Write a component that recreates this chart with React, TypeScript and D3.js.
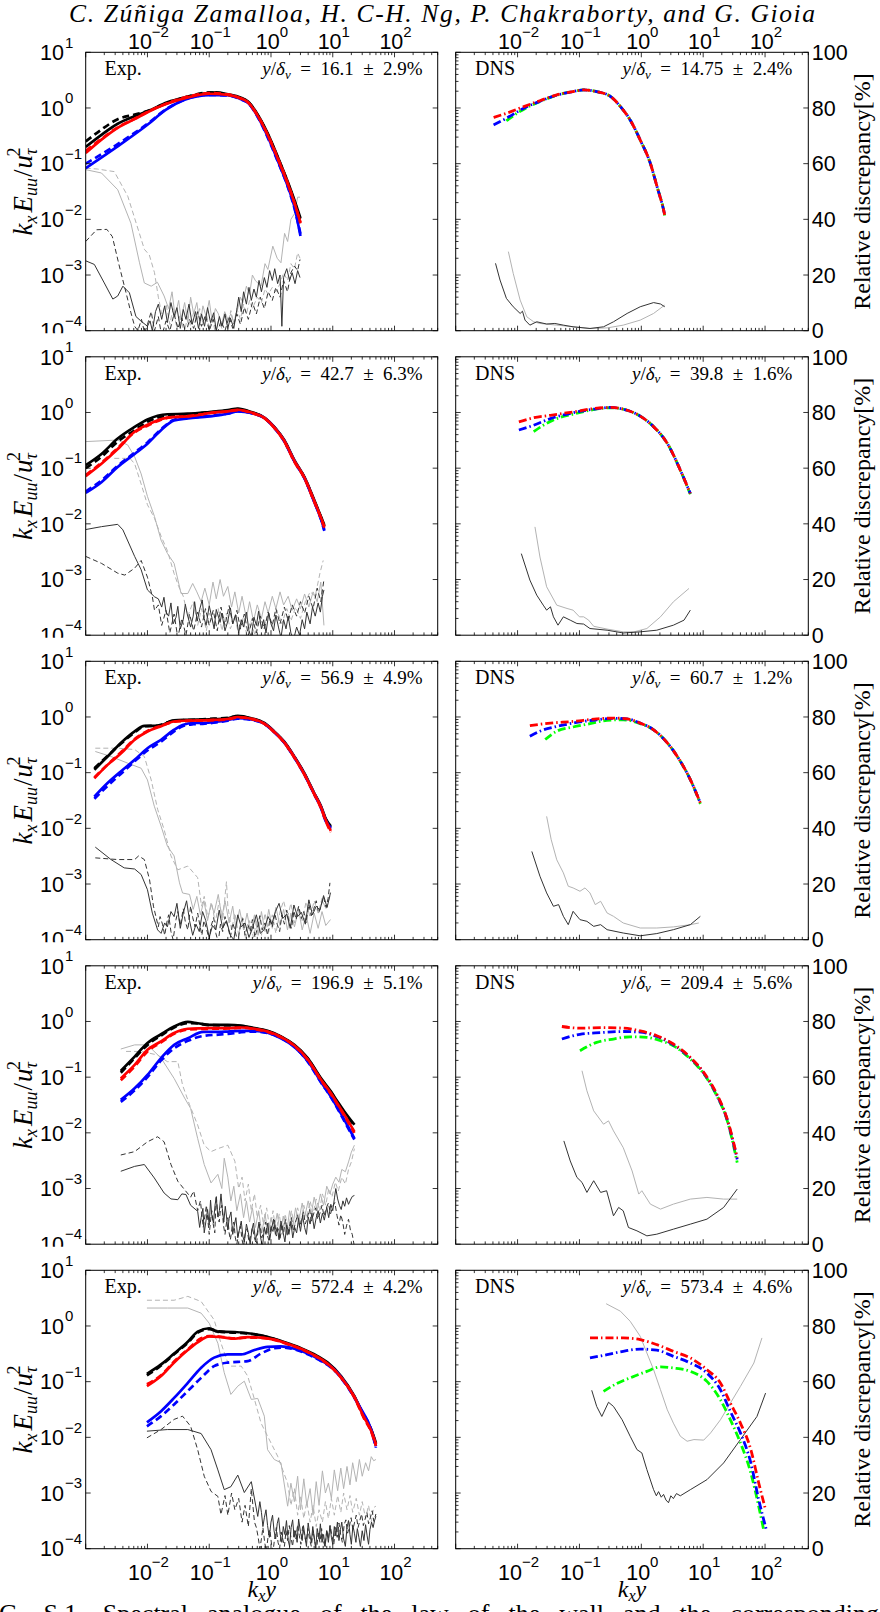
import React from "react";
import * as d3 from "d3";

type Pt = [number, number];

// ---------------- Text data ----------------
const TITLE = "C. Zúñiga Zamalloa, H. C-H. Ng, P. Chakraborty, and G. Gioia";
const CAPTION = "FIG. S.1. Spectral analogue of the law of the wall and the corresponding";
const EXP_LEVELS = ["16.1", "42.7", "56.9", "196.9", "572.4"];
const EXP_ERR = ["2.9%", "6.3%", "4.9%", "5.1%", "4.2%"];
const DNS_LEVELS = ["14.75", "39.8", "60.7", "209.4", "573.4"];
const DNS_ERR = ["2.4%", "1.6%", "1.2%", "5.6%", "4.6%"];
const X_LABEL_EXPS = [-2, -1, 0, 1, 2];
const Y_LABEL_EXPS = [1, 0, -1, -2, -3, -4];
const RIGHT_TICKS = [0, 20, 40, 60, 80, 100];
const X_DOMAIN: [number, number] = [1e-3, 500];
const Y_DOMAIN: [number, number] = [1e-4, 10];

// ---------------- Panel 1 (Exp.) ----------------
const E1_BK: Pt[] = [[1e-3,0.2],[1.8e-3,0.33],[3.3e-3,0.52],[6.2e-3,0.71],[1e-2,0.87],[2.1e-2,1.26],[4.5e-2,1.58],[7e-2,1.75],[0.1,1.85],[0.13,1.9],[0.2,1.76],[0.32,1.55],[0.42,1.32],[0.61,0.76],[0.88,0.355],[1.28,0.135],[1.86,0.048],[2.39,0.0224],[3.0,0.0105]];
const E1_BKD: Pt[] = [[1e-3,0.25],[1.8e-3,0.41],[3.3e-3,0.63],[6.2e-3,0.76],[1e-2,0.88],[2.1e-2,1.22],[4.5e-2,1.6],[0.1,1.9],[0.2,1.72],[0.32,1.5],[0.42,1.3],[0.61,0.74],[0.88,0.34],[1.28,0.13],[1.86,0.046],[2.39,0.021],[3.0,0.0095]];
const E1_RD: Pt[] = [[1e-3,0.155],[1.8e-3,0.27],[3.3e-3,0.44],[6.2e-3,0.63],[1e-2,0.84],[2.1e-2,1.2],[4.5e-2,1.55],[0.1,1.8],[0.2,1.72],[0.32,1.5],[0.42,1.28],[0.61,0.72],[0.88,0.33],[1.28,0.125],[1.86,0.044],[2.39,0.02],[3.0,0.0088]];
const E1_RDD: Pt[] = [[1e-3,0.17],[1.8e-3,0.28],[3.3e-3,0.45],[6.2e-3,0.64],[1e-2,0.85],[2.1e-2,1.22],[4.5e-2,1.6],[0.1,1.85],[0.2,1.75],[0.32,1.48],[0.42,1.27],[0.61,0.73],[0.88,0.335],[1.28,0.128],[1.86,0.045],[2.39,0.02],[3.0,0.0085]];
const E1_BL: Pt[] = [[1e-3,0.083],[3.2e-3,0.2],[1e-2,0.5],[2e-2,0.93],[4e-2,1.4],[0.1,1.7],[0.2,1.7],[0.32,1.45],[0.42,1.25],[0.61,0.7],[0.88,0.31],[1.28,0.115],[1.86,0.04],[2.39,0.017],[3.0,0.005]];
const E1_BLD: Pt[] = [[1e-3,0.1],[3.2e-3,0.22],[1e-2,0.52],[2e-2,0.95],[4e-2,1.42],[0.1,1.72],[0.2,1.68],[0.32,1.44],[0.42,1.24],[0.61,0.69],[0.88,0.3],[1.28,0.112],[1.86,0.039],[2.39,0.016],[3.0,0.0055]];
const E1_LG: Pt[] = [[1e-3,0.078],[1.8e-3,0.068],[3.3e-3,0.034],[5.4e-3,0.0085],[7.4e-3,1.7e-3],[8.9e-3,7.2e-4],[1.15e-2,6.3e-4],[1.45e-2,7.4e-4],[1.86e-2,4.2e-4],[2.2e-2,2.5e-4],[2.5e-2,5e-4],[2.8e-2,1.8e-4],[3.2e-2,3.5e-4],[3.5e-2,1.6e-4],[4e-2,3.2e-4],[4.5e-2,1.4e-4],[5e-2,4e-4],[5.6e-2,2e-4],[6.3e-2,3.2e-4],[7.1e-2,1.26e-4],[7.9e-2,2.8e-4],[8.9e-2,1.8e-4],[0.1,3.5e-4],[0.112,1.4e-4],[0.126,2.5e-4],[0.141,2e-4],[0.158,1.26e-4],[0.178,2.2e-4],[0.2,1.6e-4],[0.224,2e-4],[0.25,1.4e-4],[0.28,2.1e-4],[0.32,4e-4],[0.35,3.2e-4],[0.4,6.3e-4],[0.45,4.5e-4],[0.5,1e-3],[0.56,7.9e-4],[0.69,6.3e-4],[0.8,1.6e-3],[0.89,1.26e-3],[1.07,3.3e-3],[1.26,2e-3],[1.45,1.66e-3],[1.66,5.6e-3],[1.86,4e-3],[2.1,0.01],[2.4,0.0126],[2.7,0.025],[2.95,0.025]];
const E1_LGD: Pt[] = [[1e-3,0.083],[1.55e-3,0.08],[2.9e-3,0.072],[4.8e-3,0.026],[7.4e-3,5.6e-3],[8.9e-3,2.9e-3],[1.07e-2,2.3e-3],[1.3e-2,1.1e-3],[1.5e-2,4e-4],[1.7e-2,2e-4],[2e-2,3e-4],[2.3e-2,1.3e-4],[2.6e-2,2.5e-4],[3e-2,1.1e-4],[3.4e-2,2e-4],[3.9e-2,9e-5],[4.5e-2,1.8e-4],[5e-2,1.2e-4],[5.6e-2,2.2e-4],[6.3e-2,1.5e-4],[7e-2,2.5e-4],[8e-2,1.3e-4],[9e-2,2e-4],[0.1,1.1e-4],[0.112,1.7e-4],[0.126,9e-5],[0.141,1.5e-4],[0.16,1.1e-4],[0.18,1.8e-4],[0.2,1.2e-4],[0.224,2.3e-4],[0.25,1.3e-4],[0.28,2.5e-4],[0.32,1.6e-4],[0.36,3e-4],[0.4,2e-4],[0.45,3.5e-4],[0.5,2.5e-4],[0.6,4e-4],[0.7,3.2e-4],[0.8,5.6e-4],[0.9,4.5e-4],[1.05,6e-4],[1.2,5e-4],[1.4,7e-4],[1.6,1.1e-3],[1.85,8e-4],[2.1,1.6e-3],[2.4,1.3e-3],[2.7,2.5e-3],[2.95,2e-3]];
const E1_DG: Pt[] = [[1e-3,1.8e-3],[1.38e-3,1.55e-3],[2e-3,7.2e-4],[2.75e-3,3.7e-4],[3.3e-3,4.2e-4],[4e-3,6.3e-4],[5.1e-3,4.8e-4],[6.5e-3,1.8e-4],[7.8e-3,1.5e-4],[1e-2,1.2e-4],[1.1e-2,1.5e-4],[1.2e-2,1e-4],[1.35e-2,2.2e-4],[1.5e-2,3e-4],[1.7e-2,1.6e-4],[1.9e-2,2.8e-4],[2.1e-2,1.4e-4],[2.4e-2,3.2e-4],[2.7e-2,1.8e-4],[3e-2,2.6e-4],[3.4e-2,1.1e-4],[3.8e-2,2.4e-4],[4.2e-2,1.6e-4],[4.7e-2,3e-4],[5.3e-2,1.3e-4],[6e-2,2.2e-4],[6.7e-2,1.1e-4],[7.5e-2,2e-4],[8.4e-2,1.2e-4],[9.4e-2,2.6e-4],[0.105,1.4e-4],[0.118,2.1e-4],[0.13,1e-4],[0.146,1.8e-4],[0.16,1.2e-4],[0.18,2e-4],[0.2,1.1e-4],[0.22,1.7e-4],[0.25,1.1e-4],[0.28,2.4e-4],[0.3,4e-4],[0.33,2.2e-4],[0.36,5e-4],[0.4,3e-4],[0.44,6e-4],[0.48,3.5e-4],[0.53,5.6e-4],[0.58,4e-4],[0.64,8e-4],[0.7,5e-4],[0.78,9e-4],[0.86,6e-4],[0.95,1.2e-3],[1.05,8e-4],[1.15,1.3e-3],[1.28,7e-4],[1.4,1e-3],[1.5,1.2e-4],[1.6,9e-4],[1.8,1.3e-3],[2.0,8e-4],[2.2,1.1e-3],[2.45,7e-4],[2.7,1.2e-3],[2.95,9e-4]];
const E1_DGD: Pt[] = [[1e-3,4e-3],[1.5e-3,6.5e-3],[2.2e-3,6.6e-3],[2.7e-3,4.9e-3],[3.5e-3,1.45e-3],[4.5e-3,4.8e-4],[5.4e-3,2.1e-4],[6.2e-3,1.2e-4],[7e-3,1e-4],[8e-3,1.6e-4],[9e-3,9e-5],[1e-2,1.3e-4],[1.15e-2,2.2e-4],[1.3e-2,1e-4],[1.5e-2,1.8e-4],[1.7e-2,8e-5],[2e-2,1.5e-4],[2.3e-2,1e-4],[2.7e-2,2e-4],[3.1e-2,1.1e-4],[3.6e-2,1.7e-4],[4.2e-2,9e-5],[4.8e-2,1.6e-4],[5.6e-2,1.1e-4],[6.5e-2,2.2e-4],[7.5e-2,1.2e-4],[8.7e-2,1.9e-4],[0.1,1e-4],[0.116,1.6e-4],[0.135,9e-5],[0.155,1.5e-4],[0.18,1e-4],[0.21,1.8e-4],[0.24,1.1e-4],[0.28,2e-4],[0.32,1.3e-4],[0.37,2.6e-4],[0.43,1.6e-4],[0.5,3.2e-4],[0.58,2e-4],[0.67,4e-4],[0.78,2.5e-4],[0.9,5e-4],[1.05,3.5e-4],[1.2,6e-4],[1.4,4e-4],[1.6,8e-4],[1.85,5e-4],[2.1,1.1e-3],[2.4,1.45e-3],[2.7,1.2e-3],[2.95,1.9e-3]];

// ---------------- Panel 2 (Exp.) ----------------
const E2_BK: Pt[] = [[1e-3,0.113],[1.8e-3,0.18],[3.3e-3,0.34],[6.2e-3,0.55],[1e-2,0.75],[2.1e-2,0.93],[4.5e-2,0.95],[0.1,1.02],[0.2,1.1],[0.29,1.18],[0.48,1.02],[0.78,0.81],[1.13,0.55],[1.64,0.32],[2.39,0.139],[3.47,0.07],[5.0,0.027],[6.46,0.0134],[7.3,0.0095]];
const E2_BKD: Pt[] = [[1e-3,0.1],[1.8e-3,0.16],[3.3e-3,0.3],[6.2e-3,0.48],[1e-2,0.68],[2.1e-2,0.88],[4.5e-2,0.93],[0.1,1.0],[0.2,1.08],[0.29,1.15],[0.48,1.0],[0.78,0.8],[1.13,0.54],[1.64,0.31],[2.39,0.135],[3.47,0.068],[5.0,0.026],[6.46,0.013],[7.3,0.009]];
const E2_RD: Pt[] = [[1e-3,0.072],[1.8e-3,0.12],[3.3e-3,0.22],[6.2e-3,0.45],[1e-2,0.6],[2.1e-2,0.81],[4.5e-2,0.85],[0.08,0.93],[0.1,0.98],[0.2,1.05],[0.29,1.12],[0.48,1.0],[0.78,0.8],[1.13,0.54],[1.64,0.31],[2.39,0.135],[3.47,0.068],[5.0,0.026],[6.46,0.0128],[7.3,0.009]];
const E2_RDD: Pt[] = [[1e-3,0.075],[1.8e-3,0.125],[3.3e-3,0.23],[6.2e-3,0.44],[1e-2,0.58],[2.1e-2,0.8],[4.5e-2,0.86],[0.1,0.97],[0.2,1.04],[0.29,1.1],[0.48,0.98],[0.78,0.79],[1.13,0.53],[1.64,0.3],[2.39,0.13],[3.47,0.066],[5.0,0.025],[6.46,0.0125],[7.3,0.0085]];
const E2_BL: Pt[] = [[1e-3,0.036],[1.8e-3,0.056],[3.3e-3,0.105],[6.2e-3,0.18],[1e-2,0.275],[1.66e-2,0.48],[2.7e-2,0.72],[4.5e-2,0.78],[0.1,0.85],[0.2,0.95],[0.29,1.05],[0.48,0.98],[0.78,0.8],[1.13,0.54],[1.64,0.31],[2.39,0.135],[3.47,0.067],[5.0,0.025],[6.46,0.012],[7.3,0.0078]];
const E2_BLD: Pt[] = [[1e-3,0.038],[1.8e-3,0.06],[3.3e-3,0.11],[6.2e-3,0.19],[1e-2,0.29],[1.66e-2,0.5],[2.7e-2,0.74],[4.5e-2,0.8],[0.1,0.87],[0.2,0.96],[0.29,1.06],[0.48,0.97],[0.78,0.79],[1.13,0.53],[1.64,0.3],[2.39,0.132],[3.47,0.066],[5.0,0.025],[6.46,0.012],[7.3,0.0075]];
const E2_LG: Pt[] = [[1e-3,0.3],[3.3e-3,0.32],[4.8e-3,0.26],[6.2e-3,0.16],[7.9e-3,0.079],[1e-2,0.031],[1.3e-2,0.0135],[1.66e-2,5.1e-3],[2.1e-2,2.95e-3],[2.7e-2,1.95e-3],[3.5e-2,5.6e-4],[4.5e-2,5.6e-4],[5.4e-2,8.5e-4],[6.3e-2,6e-4],[7.4e-2,4e-4],[8.5e-2,7e-4],[0.1,3.5e-4],[0.115,9e-4],[0.13,4.5e-4],[0.15,1e-3],[0.17,5e-4],[0.2,7.5e-4],[0.23,3.2e-4],[0.26,6e-4],[0.3,2.5e-4],[0.34,5e-4],[0.4,2e-4],[0.45,4e-4],[0.52,1.8e-4],[0.6,3.5e-4],[0.7,2e-4],[0.8,4e-4],[0.9,2.5e-4],[1.05,5e-4],[1.2,3e-4],[1.4,6e-4],[1.6,3.5e-4],[1.9,5e-4],[2.2,2.8e-4],[2.6,4.5e-4],[3.0,3e-4],[3.5,5.5e-4],[4.1,3.2e-4],[4.8,6e-4],[5.6,4e-4],[6.4,9e-4],[7.2,1.5e-4]];
const E2_LGD: Pt[] = [[2.9e-3,0.15],[5.2e-3,0.15],[6.2e-3,0.12],[7.9e-3,0.052],[1e-2,0.022],[1.3e-2,0.0126],[1.66e-2,6e-3],[2.1e-2,3.3e-3],[2.7e-2,1.28e-3],[3.2e-2,7.5e-4],[3.8e-2,5e-4],[4.5e-2,2.2e-4],[5.5e-2,4e-4],[6.5e-2,1.5e-4],[7.5e-2,3e-4],[9e-2,1.2e-4],[0.1,2.5e-4],[0.12,1.5e-4],[0.14,3e-4],[0.16,1.2e-4],[0.19,2.5e-4],[0.22,1.3e-4],[0.26,2.2e-4],[0.3,1e-4],[0.35,2e-4],[0.4,1.1e-4],[0.47,1.8e-4],[0.55,1e-4],[0.65,2.1e-4],[0.75,1.3e-4],[0.9,2.4e-4],[1.05,1.4e-4],[1.25,2.8e-4],[1.5,1.6e-4],[1.8,3e-4],[2.1,1.8e-4],[2.5,3.2e-4],[3.0,2e-4],[3.6,4e-4],[4.3,6e-4],[5.2,5e-4],[6.2,1.3e-3],[7.0,2.2e-3]];
const E2_DG: Pt[] = [[1e-3,7.9e-3],[1.8e-3,8.9e-3],[3.3e-3,9.8e-3],[4e-3,7.8e-3],[6.2e-3,2.6e-3],[7.9e-3,1.5e-3],[1e-2,6.5e-4],[1.3e-2,4.9e-4],[1.5e-2,4.5e-4],[1.7e-2,3.2e-4],[1.85e-2,4.8e-4],[2e-2,2.6e-4],[2.2e-2,2.2e-4],[2.4e-2,3.8e-4],[2.6e-2,1.6e-4],[2.9e-2,2.1e-4],[3.1e-2,3.3e-4],[3.4e-2,1.3e-4],[3.8e-2,1.9e-4],[4.1e-2,3.6e-4],[4.4e-2,2.4e-4],[5e-2,1.4e-4],[5.5e-2,2.2e-4],[5.8e-2,4e-4],[6.4e-2,1.8e-4],[7e-2,2.9e-4],[7.7e-2,4.3e-4],[8.3e-2,2e-4],[8.9e-2,1.5e-4],[0.1,3.4e-4],[0.11,2.1e-4],[0.12,1.3e-4],[0.13,2.9e-4],[0.15,1.7e-4],[0.16,2.5e-4],[0.18,1.2e-4],[0.2,1.8e-4],[0.22,3.1e-4],[0.24,1.6e-4],[0.27,2.3e-4],[0.3,1.1e-4],[0.33,1.9e-4],[0.36,1.4e-4],[0.4,2.6e-4],[0.44,1.2e-4],[0.48,9e-5],[0.53,2.1e-4],[0.58,1.5e-4],[0.63,2.7e-4],[0.7,1.3e-4],[0.76,1.9e-4],[0.83,1.1e-4],[0.92,2.5e-4],[1,1.6e-4],[1.1,1.2e-4],[1.2,2.3e-4],[1.32,1.4e-4],[1.45,9e-5],[1.6,1.9e-4],[1.75,1.3e-4],[1.9,2.2e-4],[2.1,1.1e-4],[2.3,8e-5],[2.6,1.4e-4],[2.9,1e-4],[3.2,1.9e-4],[3.5,1.3e-4],[3.8,2.6e-4],[4.3,1.6e-4],[4.7,3.2e-4],[5.2,2.2e-4],[5.8,3.8e-4],[6.3,2.6e-4],[6.8,5e-4],[7.2,6.5e-4]];
const E2_DGD: Pt[] = [[1e-3,2.6e-3],[1.8e-3,1.95e-3],[3.3e-3,1.3e-3],[4.3e-3,1.2e-3],[6.2e-3,1.6e-3],[7.9e-3,2.2e-3],[1e-2,1.1e-3],[1.2e-2,4.9e-4],[1.3e-2,2.8e-4],[1.5e-2,3.5e-4],[1.7e-2,1.5e-4],[2e-2,2.8e-4],[2.3e-2,1.1e-4],[2.7e-2,2.4e-4],[3.1e-2,9e-5],[3.6e-2,2e-4],[4.2e-2,1e-4],[4.8e-2,2.4e-4],[5.6e-2,1.2e-4],[6.5e-2,2.6e-4],[7.5e-2,1.4e-4],[8.7e-2,3e-4],[0.1,1.5e-4],[0.116,2.8e-4],[0.135,1.2e-4],[0.155,3.2e-4],[0.18,1.5e-4],[0.21,3.4e-4],[0.24,1.6e-4],[0.28,2.8e-4],[0.32,1.3e-4],[0.37,2.4e-4],[0.43,1e-4],[0.5,2e-4],[0.58,1.1e-4],[0.67,2.2e-4],[0.78,1.3e-4],[0.9,2.6e-4],[1.05,1.5e-4],[1.2,3e-4],[1.4,1.6e-4],[1.65,3.2e-4],[1.9,1.8e-4],[2.2,3.5e-4],[2.6,2.2e-4],[3,4e-4],[3.5,2.5e-4],[4.1,5e-4],[4.8,3e-4],[5.6,7e-4],[6.4,4e-4],[7.2,1e-3]];

// ---------------- Panel 3 (Exp.) ----------------
const E3_BK: Pt[] = [[1.38e-3,0.113],[2.26e-3,0.195],[3.7e-3,0.34],[6.2e-3,0.55],[8.9e-3,0.69],[1.46e-2,0.69],[2.7e-2,0.87],[4.5e-2,0.89],[0.1,0.91],[0.2,0.95],[0.29,1.05],[0.48,0.95],[0.78,0.78],[1.13,0.55],[1.64,0.36],[2.39,0.195],[3.47,0.098],[5.0,0.043],[6.46,0.025],[7.8,0.0145],[9.3,0.011]];
const E3_BKD: Pt[] = [[1.38e-3,0.12],[2.26e-3,0.2],[3.7e-3,0.33],[6.2e-3,0.53],[8.9e-3,0.68],[1.46e-2,0.7],[2.7e-2,0.86],[4.5e-2,0.88],[0.1,0.92],[0.2,0.97],[0.29,1.03],[0.48,0.93],[0.78,0.77],[1.13,0.54],[1.64,0.35],[2.39,0.19],[3.47,0.095],[5.0,0.042],[6.46,0.024],[7.8,0.014],[9.3,0.0105]];
const E3_RD: Pt[] = [[1.38e-3,0.079],[2.26e-3,0.138],[3.7e-3,0.22],[6.2e-3,0.39],[1e-2,0.55],[1.7e-2,0.69],[2.7e-2,0.83],[4.5e-2,0.86],[0.1,0.88],[0.2,0.92],[0.29,1.0],[0.48,0.93],[0.78,0.76],[1.13,0.54],[1.64,0.35],[2.39,0.19],[3.47,0.094],[5.0,0.042],[6.46,0.024],[7.8,0.0135],[9.3,0.009]];
const E3_RDD: Pt[] = [[1.38e-3,0.082],[2.26e-3,0.14],[3.7e-3,0.23],[6.2e-3,0.4],[1e-2,0.56],[1.7e-2,0.7],[2.7e-2,0.82],[4.5e-2,0.85],[0.1,0.87],[0.2,0.9],[0.29,0.98],[0.48,0.92],[0.78,0.75],[1.13,0.53],[1.64,0.345],[2.39,0.185],[3.47,0.092],[5.0,0.041],[6.46,0.023],[7.8,0.013],[9.3,0.0085]];
const E3_BL: Pt[] = [[1.38e-3,0.037],[2.26e-3,0.065],[3.7e-3,0.105],[6.2e-3,0.17],[1e-2,0.275],[1.66e-2,0.39],[2.7e-2,0.59],[3.7e-2,0.72],[5.5e-2,0.78],[8.5e-2,0.78],[0.13,0.82],[0.2,0.88],[0.29,0.95],[0.48,0.9],[0.78,0.76],[1.13,0.54],[1.64,0.35],[2.39,0.19],[3.47,0.094],[5.0,0.042],[6.46,0.024],[7.8,0.0135],[9.3,0.0102]];
const E3_BLD: Pt[] = [[1.38e-3,0.034],[2.26e-3,0.058],[3.7e-3,0.095],[6.2e-3,0.16],[1e-2,0.25],[1.66e-2,0.36],[2.7e-2,0.55],[3.7e-2,0.68],[5.5e-2,0.74],[8.5e-2,0.76],[0.13,0.8],[0.2,0.86],[0.29,0.93],[0.48,0.89],[0.78,0.75],[1.13,0.53],[1.64,0.345],[2.39,0.185],[3.47,0.092],[5.0,0.041],[6.46,0.023],[7.8,0.013],[9.3,0.0098]];
const E3_LG: Pt[] = [[1.43e-3,0.24],[2.57e-3,0.195],[4.8e-3,0.148],[7.9e-3,0.12],[1e-2,0.074],[1.29e-2,0.025],[1.66e-2,0.011],[2.1e-2,4.8e-3],[2.7e-2,3.2e-3],[3.3e-2,1.05e-3],[3.7e-2,6.9e-4],[4.8e-2,6.5e-4],[5.5e-2,3.5e-4],[6.3e-2,6e-4],[7.2e-2,2.8e-4],[8.2e-2,5e-4],[9.4e-2,2.2e-4],[0.107,4.5e-4],[0.12,3e-4],[0.14,6.5e-4],[0.16,2.5e-4],[0.18,5e-4],[0.21,2e-4],[0.24,4e-4],[0.27,1.6e-4],[0.31,3.5e-4],[0.36,1.5e-4],[0.41,3e-4],[0.47,1.3e-4],[0.54,2.8e-4],[0.62,1.2e-4],[0.7,3.2e-4],[0.8,1.4e-4],[0.92,3.5e-4],[1.05,1.6e-4],[1.2,3.8e-4],[1.4,1.8e-4],[1.6,3.5e-4],[1.85,1.5e-4],[2.1,3e-4],[2.4,1.7e-4],[2.8,3.5e-4],[3.2,1.5e-4],[3.7,2.8e-4],[4.3,1.3e-4],[5,3e-4],[5.8,1.6e-4],[6.7,3.2e-4],[7.7,1.8e-4],[9.2,2.3e-4]];
const E3_LGD: Pt[] = [[1.43e-3,0.275],[3.3e-3,0.275],[6.2e-3,0.26],[8.9e-3,0.195],[1.15e-2,0.074],[1.46e-2,0.022],[1.86e-2,9.5e-3],[2.4e-2,3.2e-3],[3.1e-2,1.8e-3],[4.5e-2,2.1e-3],[6.5e-2,1.3e-3],[7.5e-2,4e-4],[8.3e-2,6e-4],[9.5e-2,2.5e-4],[0.11,4.5e-4],[0.125,2e-4],[0.145,5e-4],[0.165,2.2e-4],[0.19,1.1e-3],[0.2,4e-4],[0.23,1.5e-4],[0.26,3e-4],[0.3,1.2e-4],[0.34,2.6e-4],[0.39,1e-4],[0.45,2.2e-4],[0.52,1.1e-4],[0.6,2.4e-4],[0.7,1.2e-4],[0.8,3e-4],[0.92,1.4e-4],[1.05,2.8e-4],[1.2,1.3e-4],[1.4,3.2e-4],[1.6,5e-4],[1.85,2.5e-4],[2.1,4.5e-4],[2.4,2e-4],[2.8,4e-4],[3.2,2.2e-4],[3.7,4.8e-4],[4.3,2.5e-4],[5,5e-4],[5.8,3e-4],[6.7,5.5e-4],[7.7,3.5e-4],[9,6e-4]];
const E3_DG: Pt[] = [[1.43e-3,4.6e-3],[2.57e-3,2.75e-3],[4.2e-3,1.95e-3],[6.2e-3,1.86e-3],[7.9e-3,1.48e-3],[1e-2,7.9e-4],[1.2e-2,3e-4],[1.46e-2,1.5e-4],[1.66e-2,1.3e-4],[1.9e-2,2e-4],[2.1e-2,1.7e-4],[2.4e-2,3.2e-4],[2.7e-2,2.6e-4],[3e-2,4.5e-4],[3.4e-2,1.6e-4],[3.8e-2,3e-4],[4.3e-2,5e-4],[4.8e-2,2.2e-4],[5.4e-2,1.2e-4],[6.1e-2,1.9e-4],[6.9e-2,1.4e-4],[7.8e-2,3.2e-4],[8.8e-2,2.2e-4],[0.1,1.1e-4],[0.113,1.8e-4],[0.128,1.5e-4],[0.145,3.4e-4],[0.165,1.6e-4],[0.19,2.2e-4],[0.22,1.2e-4],[0.25,1e-4],[0.29,2.8e-4],[0.33,1.7e-4],[0.38,2e-4],[0.44,1.1e-4],[0.5,1.6e-4],[0.58,2.8e-4],[0.67,1.3e-4],[0.77,1.5e-4],[0.9,2.6e-4],[1.03,1.9e-4],[1.18,3.2e-4],[1.35,4.5e-4],[1.55,2.4e-4],[1.8,2.9e-4],[2.05,1.6e-4],[2.35,4.2e-4],[2.7,2.6e-4],[3.1,3.1e-4],[3.6,1.9e-4],[4.1,5.2e-4],[4.7,2.8e-4],[5.4,4e-4],[6.2,3.4e-4],[7.1,6.2e-4],[8.1,3.8e-4],[9.2,7e-4]];
const E3_DGD: Pt[] = [[1.43e-3,2.95e-3],[3.3e-3,2.75e-3],[6.2e-3,2.75e-3],[7.2e-3,3.2e-3],[8.9e-3,2.75e-3],[1.08e-2,1.2e-3],[1.25e-2,4e-4],[1.5e-2,1.7e-4],[1.6e-2,2.6e-4],[1.75e-2,1.9e-4],[1.9e-2,1.2e-4],[2.05e-2,2e-4],[2.2e-2,2.8e-4],[2.4e-2,1.4e-4],[2.6e-2,1e-4],[2.9e-2,2.3e-4],[3.1e-2,3.2e-4],[3.4e-2,1.8e-4],[3.8e-2,3.6e-4],[4.1e-2,2.1e-4],[4.5e-2,1.5e-4],[5e-2,4e-4],[5.4e-2,2.5e-4],[5.9e-2,1.7e-4],[6.5e-2,3e-4],[7e-2,1.9e-4],[7.6e-2,1.2e-4],[8.2e-2,2.2e-4],[9e-2,1.6e-4],[0.1,1e-4],[0.108,1.8e-4],[0.118,2.5e-4],[0.128,1.3e-4],[0.14,9e-5],[0.152,1.9e-4],[0.165,1.4e-4],[0.18,2.6e-4],[0.2,1.7e-4],[0.22,1.1e-4],[0.24,2e-4],[0.26,1.5e-4],[0.29,9e-5],[0.32,1.8e-4],[0.35,2.4e-4],[0.38,1.2e-4],[0.42,1.9e-4],[0.46,1.4e-4],[0.5,2.3e-4],[0.55,1.1e-4],[0.6,1.6e-4],[0.66,2.7e-4],[0.72,1.5e-4],[0.8,2e-4],[0.88,1.2e-4],[0.96,2.4e-4],[1.05,1.7e-4],[1.15,3e-4],[1.26,1.9e-4],[1.38,1.4e-4],[1.5,2.8e-4],[1.65,1.9e-4],[1.8,3.4e-4],[1.95,2.1e-4],[2.15,1.6e-4],[2.35,3.3e-4],[2.55,2.3e-4],[2.8,4e-4],[3.1,2.4e-4],[3.4,3.2e-4],[3.7,2e-4],[4.1,4.3e-4],[4.5,2.7e-4],[4.9,3.5e-4],[5.4,5e-4],[5.9,3e-4],[6.5,4.2e-4],[7.1,5.8e-4],[7.8,3.8e-4],[8.4,5.5e-4],[9.0,1.05e-3]];

// ---------------- Panel 4 (Exp.) ----------------
const E4_BK: Pt[] = [[3.7e-3,0.129],[6.2e-3,0.234],[1e-2,0.41],[1.66e-2,0.59],[2.7e-2,0.81],[4.5e-2,0.98],[6.5e-2,0.93],[0.1,0.87],[0.2,0.87],[0.33,0.84],[0.54,0.76],[0.88,0.68],[1.45,0.54],[2.39,0.38],[3.93,0.22],[6.46,0.095],[9.3,0.056],[12,0.036],[15.5,0.024],[22.4,0.014]];
const E4_BKD: Pt[] = [[3.7e-3,0.12],[6.2e-3,0.22],[1e-2,0.38],[1.66e-2,0.56],[2.7e-2,0.78],[4.5e-2,0.93],[6.5e-2,0.92],[0.1,0.86],[0.2,0.85],[0.33,0.82],[0.54,0.75],[0.88,0.67],[1.45,0.53],[2.39,0.37],[3.93,0.215],[6.46,0.092],[9.3,0.054],[12,0.035],[15.5,0.023],[22.4,0.0135]];
const E4_RD: Pt[] = [[3.7e-3,0.095],[6.2e-3,0.166],[1e-2,0.31],[1.66e-2,0.44],[2.7e-2,0.62],[4.5e-2,0.74],[0.1,0.76],[0.2,0.76],[0.33,0.78],[0.54,0.74],[0.88,0.66],[1.45,0.53],[2.39,0.37],[3.93,0.21],[6.46,0.09],[9.3,0.052],[12,0.033],[15.5,0.021],[22.4,0.0105]];
const E4_RDD: Pt[] = [[3.7e-3,0.088],[6.2e-3,0.155],[1e-2,0.29],[1.66e-2,0.42],[2.7e-2,0.6],[4.5e-2,0.72],[0.1,0.74],[0.2,0.75],[0.33,0.77],[0.54,0.73],[0.88,0.65],[1.45,0.52],[2.39,0.365],[3.93,0.205],[6.46,0.088],[9.3,0.05],[12,0.032],[15.5,0.02],[22.4,0.01]];
const E4_BL: Pt[] = [[3.7e-3,0.039],[6.2e-3,0.063],[1e-2,0.11],[1.66e-2,0.22],[2.7e-2,0.38],[4.5e-2,0.5],[8e-2,0.65],[0.14,0.65],[0.2,0.66],[0.33,0.68],[0.54,0.68],[0.88,0.63],[1.45,0.5],[2.39,0.35],[3.93,0.195],[6.46,0.082],[9.3,0.045],[12,0.028],[15.5,0.017],[22.4,0.0079]];
const E4_BLD: Pt[] = [[3.7e-3,0.036],[6.2e-3,0.058],[1e-2,0.1],[1.66e-2,0.2],[2.7e-2,0.33],[4.5e-2,0.45],[8e-2,0.55],[0.14,0.58],[0.2,0.6],[0.33,0.64],[0.54,0.66],[0.88,0.62],[1.45,0.5],[2.39,0.35],[3.93,0.19],[6.46,0.08],[9.3,0.044],[12,0.027],[15.5,0.016],[22.4,0.0076]];
const E4_LG: Pt[] = [[3.7e-3,0.32],[6.2e-3,0.38],[1e-2,0.38],[1.66e-2,0.22],[2.7e-2,0.095],[4e-2,0.042],[5e-2,0.0275],[6.5e-2,7.9e-3],[8.3e-2,2.7e-3],[0.107,1.26e-3],[0.138,1.8e-3],[0.16,1e-3],[0.175,3.5e-3],[0.2,1.6e-3],[0.224,6e-4],[0.25,1.1e-3],[0.28,4e-4],[0.32,8e-4],[0.36,3e-4],[0.4,6e-4],[0.45,2.5e-4],[0.5,4.5e-4],[0.56,2e-4],[0.63,4e-4],[0.71,1.6e-4],[0.8,3.5e-4],[0.9,1.5e-4],[1.0,3e-4],[1.12,1.8e-4],[1.26,3.6e-4],[1.41,1.6e-4],[1.58,3.2e-4],[1.78,1.5e-4],[2,4e-4],[2.24,2e-4],[2.5,4.5e-4],[2.8,2.5e-4],[3.2,5.5e-4],[3.5,3e-4],[4,6e-4],[4.5,3.5e-4],[5,7e-4],[5.6,4e-4],[6.3,8e-4],[7.1,5e-4],[8,1.1e-3],[9,8e-4],[10,1.2e-3],[11.2,1.6e-3],[12.6,1.3e-3],[14,2.2e-3],[16,2e-3],[18,3e-3],[20,4.5e-3],[22.4,6e-3]];
const E4_LGD: Pt[] = [[4.5e-3,0.29],[7.9e-3,0.29],[1.46e-2,0.25],[2.1e-2,0.19],[3.1e-2,0.19],[3.7e-2,0.072],[4.8e-2,0.032],[6.5e-2,0.0138],[8.3e-2,6e-3],[0.107,4.6e-3],[0.138,5.2e-3],[0.2,6e-3],[0.26,3.1e-3],[0.3,1e-3],[0.34,1.6e-3],[0.38,6e-4],[0.43,1.2e-3],[0.48,4e-4],[0.54,8e-4],[0.6,3e-4],[0.68,5e-4],[0.76,2.2e-4],[0.85,4.5e-4],[0.96,1.8e-4],[1.08,4e-4],[1.2,1.6e-4],[1.36,3.5e-4],[1.52,1.5e-4],[1.7,3.5e-4],[1.9,1.7e-4],[2.15,4e-4],[2.4,2e-4],[2.7,4.5e-4],[3.05,2.5e-4],[3.4,5e-4],[3.8,3e-4],[4.3,6e-4],[4.8,3.5e-4],[5.4,6.5e-4],[6.1,4e-4],[6.8,8e-4],[7.7,5e-4],[8.6,1e-3],[9.7,7e-4],[11,1.3e-3],[12.3,9e-4],[14,1.6e-3],[16,1.2e-3],[18,2.2e-3],[20,3e-3],[22.4,5.2e-3]];
const E4_DG: Pt[] = [[3.7e-3,2.04e-3],[6.2e-3,2.5e-3],[8.9e-3,2.7e-3],[1.29e-2,1.55e-3],[1.86e-2,8.3e-4],[2.4e-2,6.5e-4],[3.1e-2,6.3e-4],[3.6e-2,8e-4],[4.2e-2,7.8e-4],[5e-2,5e-4],[6.5e-2,3.9e-4],[7e-2,2e-4],[7.4e-2,3e-4],[7.9e-2,4.4e-4],[8.3e-2,1.6e-4],[8.8e-2,2.5e-4],[9.4e-2,4.2e-4],[0.1,2.2e-4],[0.105,6.2e-4],[0.11,3.3e-4],[0.117,2.4e-4],[0.124,5e-4],[0.13,7e-4],[0.138,3.1e-4],[0.146,4e-4],[0.155,8e-4],[0.163,4.4e-4],[0.172,2.5e-4],[0.182,4.8e-4],[0.19,3.2e-4],[0.2,1.8e-4],[0.21,2.9e-4],[0.225,3.8e-4],[0.24,1.5e-4],[0.255,2.2e-4],[0.27,3e-4],[0.29,1.3e-4],[0.31,1.9e-4],[0.33,2.6e-4],[0.35,1.4e-4],[0.37,1.1e-4],[0.4,2.3e-4],[0.43,1.6e-4],[0.46,1e-4],[0.49,1.8e-4],[0.52,2.4e-4],[0.56,1.2e-4],[0.6,1.6e-4],[0.64,2.5e-4],[0.68,1.3e-4],[0.73,9e-5],[0.78,2e-4],[0.83,1.5e-4],[0.89,2.4e-4],[0.95,1.2e-4],[1.02,1.9e-4],[1.1,2.8e-4],[1.18,1.5e-4],[1.26,2e-4],[1.35,1.2e-4],[1.45,2.6e-4],[1.56,1.7e-4],[1.68,1.1e-4],[1.8,2.2e-4],[1.95,1.5e-4],[2.1,2.5e-4],[2.25,1.3e-4],[2.42,2e-4],[2.6,1.6e-4],[2.8,2.9e-4],[3,1.7e-4],[3.25,3.2e-4],[3.5,2e-4],[3.75,1.5e-4],[4,3.1e-4],[4.3,2.3e-4],[4.6,3.6e-4],[5,1.9e-4],[5.4,3e-4],[5.8,4e-4],[6.3,2.4e-4],[6.8,3.6e-4],[7.3,2.7e-4],[8,4.6e-4],[8.6,3e-4],[9.3,5.2e-4],[10,4e-4],[10.7,7e-4],[11.2,1e-3],[12,6.5e-4],[12.8,5e-4],[13.7,4.2e-4],[14.6,6e-4],[15.6,4.8e-4],[16.7,6.8e-4],[18,5.2e-4],[19.3,6.2e-4],[20.7,7.2e-4],[22.4,7.5e-4]];
const E4_DGD: Pt[] = [[3.7e-3,4e-3],[6.2e-3,4.6e-3],[1e-2,6.9e-3],[1.46e-2,8.5e-3],[1.86e-2,6.9e-3],[2.4e-2,2.7e-3],[3.1e-2,1.35e-3],[4e-2,9.5e-4],[5e-2,7e-4],[5.6e-2,9e-4],[6.5e-2,4e-4],[7.2e-2,6e-4],[8e-2,2e-4],[9e-2,5e-4],[0.1,1.5e-4],[0.105,2.6e-4],[0.11,4e-4],[0.116,2.3e-4],[0.123,1.6e-4],[0.13,7.5e-4],[0.137,3.4e-4],[0.145,2.5e-4],[0.152,4.2e-4],[0.16,5e-4],[0.17,2.2e-4],[0.18,1.5e-4],[0.19,2.4e-4],[0.2,3e-4],[0.21,1.6e-4],[0.22,1.2e-4],[0.235,2e-4],[0.25,2.5e-4],[0.265,1.3e-4],[0.28,1e-4],[0.3,1.6e-4],[0.32,2.1e-4],[0.34,1.2e-4],[0.36,9e-5],[0.38,1.5e-4],[0.41,1.9e-4],[0.44,1.1e-4],[0.47,1.4e-4],[0.5,2e-4],[0.54,1.3e-4],[0.58,1e-4],[0.62,1.8e-4],[0.66,2.3e-4],[0.71,1.3e-4],[0.76,1.7e-4],[0.82,2.5e-4],[0.88,1.4e-4],[0.94,1.1e-4],[1,2.2e-4],[1.07,1.6e-4],[1.14,2.7e-4],[1.22,1.4e-4],[1.3,1.9e-4],[1.4,1.2e-4],[1.5,2.3e-4],[1.6,1.6e-4],[1.72,2.8e-4],[1.85,1.4e-4],[2,2.2e-4],[2.15,3e-4],[2.3,1.7e-4],[2.5,2.5e-4],[2.7,3.4e-4],[2.9,2e-4],[3.1,2.7e-4],[3.35,3.8e-4],[3.6,2.3e-4],[3.9,3.1e-4],[4.2,4.2e-4],[4.5,2.6e-4],[4.9,3.5e-4],[5.3,4.5e-4],[5.7,2.8e-4],[6.2,3.6e-4],[6.7,5e-4],[7.2,3.2e-4],[7.8,4.4e-4],[8.5,5.5e-4],[9.2,3.5e-4],[10,4.8e-4],[10.8,5.6e-4],[11.7,3.3e-4],[12.6,2.2e-4],[13.5,3.4e-4],[14.5,2.5e-4],[15.6,1.5e-4],[16.8,2.2e-4],[18,2.8e-4],[19.3,1.8e-4],[20.7,1.5e-4],[22.4,9e-5]];

// ---------------- Panel 5 (Exp.) ----------------
const E5_BK: Pt[] = [[9.8e-3,0.138],[1.66e-2,0.204],[2.7e-2,0.32],[4.5e-2,0.52],[6.5e-2,0.79],[0.1,0.91],[0.138,0.79],[0.26,0.78],[0.42,0.74],[0.69,0.68],[1.13,0.59],[1.86,0.49],[3.06,0.4],[5.0,0.31],[8.3,0.22],[13.6,0.126],[22.4,0.055],[32,0.024],[42,0.0138],[50,7.9e-3]];
const E5_BKD: Pt[] = [[9.8e-3,0.13],[1.66e-2,0.195],[2.7e-2,0.31],[4.5e-2,0.5],[6.5e-2,0.76],[0.1,0.88],[0.138,0.8],[0.26,0.76],[0.42,0.73],[0.69,0.67],[1.13,0.58],[1.86,0.48],[3.06,0.39],[5.0,0.3],[8.3,0.21],[13.6,0.12],[22.4,0.053],[32,0.023],[42,0.0133],[50,7.5e-3]];
const E5_RD: Pt[] = [[9.8e-3,0.083],[1.66e-2,0.126],[2.7e-2,0.22],[4.5e-2,0.37],[7.4e-2,0.56],[0.1,0.65],[0.155,0.63],[0.26,0.59],[0.42,0.63],[0.69,0.62],[1.13,0.57],[1.86,0.48],[3.06,0.39],[5.0,0.3],[8.3,0.21],[13.6,0.12],[22.4,0.053],[32,0.023],[42,0.013],[50,7.5e-3]];
const E5_RDD: Pt[] = [[9.8e-3,0.09],[1.66e-2,0.13],[2.7e-2,0.23],[4.5e-2,0.38],[7.4e-2,0.6],[0.1,0.66],[0.155,0.64],[0.26,0.6],[0.42,0.62],[0.69,0.61],[1.13,0.56],[1.86,0.47],[3.06,0.385],[5.0,0.295],[8.3,0.205],[13.6,0.118],[22.4,0.052],[32,0.022],[42,0.0125],[50,7e-3]];
const E5_BL: Pt[] = [[9.8e-3,0.0186],[1.66e-2,0.0295],[2.7e-2,0.051],[4.5e-2,0.095],[7.4e-2,0.178],[0.12,0.27],[0.2,0.31],[0.33,0.31],[0.54,0.37],[0.88,0.42],[1.45,0.43],[2.39,0.39],[3.93,0.32],[6.46,0.24],[10.6,0.166],[17.4,0.083],[28.8,0.032],[42,0.0138],[50,6.9e-3]];
const E5_BLD: Pt[] = [[9.8e-3,0.0158],[1.66e-2,0.024],[2.7e-2,0.039],[4.5e-2,0.068],[7.4e-2,0.117],[0.12,0.19],[0.2,0.22],[0.42,0.234],[0.69,0.32],[1.13,0.4],[1.45,0.41],[2.39,0.38],[3.93,0.31],[6.46,0.235],[10.6,0.16],[17.4,0.08],[28.8,0.031],[42,0.0133],[50,6.5e-3]];
const E5_LG: Pt[] = [[9.8e-3,2.1],[2.1e-2,2.1],[4.5e-2,2.1],[7.4e-2,1.7],[0.1,1.12],[0.138,0.49],[0.175,0.145],[0.224,0.059],[0.29,0.083],[0.37,0.102],[0.48,0.048],[0.61,0.05],[0.78,0.024],[0.88,6e-3],[1.13,4e-3],[1.45,3.5e-3],[1.86,5.8e-4],[2.1,1.5e-3],[2.39,7e-4],[2.7,2e-3],[3.0,5e-4],[3.4,1.8e-3],[3.8,6e-4],[4.3,1.2e-3],[4.8,4e-4],[5.4,1.6e-3],[6,6e-4],[6.8,2.5e-3],[7.6,1e-3],[8.5,1.5e-3],[9.5,8e-4],[10.6,2.6e-3],[12,1.1e-3],[13.5,2.8e-3],[15,1.2e-3],[17,3e-3],[19,1.4e-3],[21,3.5e-3],[24,1.6e-3],[27,4e-3],[30,2e-3],[34,3.5e-3],[38,2.5e-3],[42,4.5e-3],[46,3.8e-3],[50,4e-3]];
const E5_LGD: Pt[] = [[9.8e-3,2.9],[2.7e-2,2.9],[4.5e-2,3.4],[7.4e-2,2.75],[0.12,1.29],[0.155,0.49],[0.2,0.22],[0.224,0.19],[0.33,0.19],[0.42,0.126],[0.54,0.048],[0.69,0.018],[0.88,0.0105],[1.28,4.6e-3],[1.86,1.5e-3],[2.1,6e-4],[2.39,1.2e-3],[2.7,4e-4],[3.0,9e-4],[3.4,3.5e-4],[3.8,7e-4],[4.3,3e-4],[4.8,6e-4],[5.4,2.5e-4],[6,5e-4],[6.8,3e-4],[7.6,7e-4],[8.5,3.5e-4],[9.5,8e-4],[10.6,4e-4],[12,9e-4],[13.5,4.5e-4],[15,1e-3],[17,5e-4],[19,9e-4],[21,4.5e-4],[24,8e-4],[27,4e-4],[30,7e-4],[34,3.5e-4],[38,6e-4],[42,3e-4],[46,5.5e-4],[50,5.8e-4]];
const E5_DG: Pt[] = [[9.8e-3,0.0129],[2.1e-2,0.0138],[4.5e-2,0.0138],[7.4e-2,0.0117],[0.107,6e-3],[0.138,2.6e-3],[0.175,1.15e-3],[0.224,1.3e-3],[0.29,2.1e-3],[0.37,1.02e-3],[0.48,1.6e-3],[0.61,3.8e-4],[0.66,7e-4],[0.7,4.5e-4],[0.74,2.5e-4],[0.78,3.6e-4],[0.83,5e-4],[0.88,2.6e-4],[0.94,1.6e-4],[1,3e-4],[1.06,4e-4],[1.12,2.1e-4],[1.19,1.5e-4],[1.26,2.8e-4],[1.33,3.6e-4],[1.41,1.8e-4],[1.5,1.3e-4],[1.58,2.5e-4],[1.68,1.8e-4],[1.78,3.2e-4],[1.9,1.4e-4],[2,1.1e-4],[2.12,2.4e-4],[2.24,3.3e-4],[2.37,1.6e-4],[2.5,2.1e-4],[2.65,1.3e-4],[2.8,3.4e-4],[3,2e-4],[3.2,1.4e-4],[3.35,2.6e-4],[3.55,1.7e-4],[3.75,1.1e-4],[4,2.9e-4],[4.25,1.8e-4],[4.5,1.3e-4],[4.75,2.5e-4],[5,1.6e-4],[5.3,1e-4],[5.6,2.3e-4],[6,1.5e-4],[6.3,2.8e-4],[6.7,1.3e-4],[7.1,1.8e-4],[7.5,1.1e-4],[8,2.1e-4],[8.5,1.3e-4],[9,2.6e-4],[9.5,1.6e-4],[10,1.2e-4],[10.6,2.5e-4],[11.2,1.7e-4],[11.9,3e-4],[12.6,1.4e-4],[13.3,2.2e-4],[14,3e-4],[15,1.5e-4],[16,1.1e-4],[17,2.4e-4],[18,3.2e-4],[19,1.8e-4],[20,1.2e-4],[21.2,2.6e-4],[22.4,1.9e-4],[23.7,1.3e-4],[25,2.3e-4],[26.5,1.6e-4],[28,1.1e-4],[30,2.1e-4],[32,1.4e-4],[34,2.7e-4],[36,1.7e-4],[38,1.2e-4],[40,2.2e-4],[42.5,3e-4],[45,2.4e-4],[47.5,3.2e-4],[50,3.8e-4]];
const E5_DGD: Pt[] = [[9.8e-3,9.8e-3],[1.66e-2,0.0138],[2.7e-2,0.021],[3.7e-2,0.024],[5e-2,0.0158],[6.5e-2,6e-3],[8.3e-2,2e-3],[0.107,1.07e-3],[0.138,8.7e-4],[0.155,4.1e-4],[0.18,9e-4],[0.2,4e-4],[0.23,1e-3],[0.26,5e-4],[0.3,8e-4],[0.34,3e-4],[0.38,6e-4],[0.43,2.5e-4],[0.48,1.2e-3],[0.54,3e-4],[0.58,2.4e-4],[0.62,1.6e-4],[0.66,1e-4],[0.7,1.5e-4],[0.74,2.4e-4],[0.79,1.3e-4],[0.84,9e-5],[0.9,1.7e-4],[0.96,2.2e-4],[1.02,1.2e-4],[1.08,9e-5],[1.15,1.6e-4],[1.22,2.4e-4],[1.3,1.3e-4],[1.38,1e-4],[1.46,2e-4],[1.55,1.5e-4],[1.65,1.1e-4],[1.75,2.1e-4],[1.86,1.4e-4],[1.98,2.6e-4],[2.1,1.6e-4],[2.24,1.1e-4],[2.38,2.2e-4],[2.53,1.5e-4],[2.7,2.7e-4],[2.88,1.7e-4],[3.05,1.2e-4],[3.25,2.5e-4],[3.45,1.8e-4],[3.7,1.3e-4],[3.95,2.3e-4],[4.2,1.5e-4],[4.5,1.1e-4],[4.8,2.1e-4],[5.1,1.4e-4],[5.45,9e-5],[5.8,1.9e-4],[6.2,1.3e-4],[6.6,2.3e-4],[7,1.4e-4],[7.5,1.1e-4],[8,2.2e-4],[8.5,1.5e-4],[9.1,2.6e-4],[9.7,1.7e-4],[10.4,1.2e-4],[11.1,2.4e-4],[11.8,1.6e-4],[12.6,2.9e-4],[13.4,1.8e-4],[14.3,1.3e-4],[15.3,2.7e-4],[16.3,3.3e-4],[17.4,1.9e-4],[18.6,2.5e-4],[19.8,3.6e-4],[21.2,2.2e-4],[22.6,3e-4],[24,4e-4],[25.7,2.4e-4],[27.4,3.2e-4],[29.3,4.2e-4],[31.3,2.6e-4],[33.4,3.4e-4],[35.7,4.5e-4],[38,2.8e-4],[40.6,3.6e-4],[43.4,4.8e-4],[46.3,3.1e-4],[50,4.2e-4]];

// ---------------- DNS panels (values in % of the right axis) ----------------
const D1_RD: Pt[] = [[4.1e-3,76.6],[6.6e-3,78.1],[1.26e-2,80.5],[2.3e-2,82.6],[4.3e-2,84.7],[7.9e-2,85.9],[0.117,86.5],[0.19,85.9],[0.32,84.1],[0.46,80.5],[0.66,75.7],[0.96,68.5],[1.4,60.1],[1.8,51.7],[2.29,43.4],[2.39,41.6]];
const D1_BL: Pt[] = [[4.1e-3,73.9],[6.6e-3,76.3],[1.26e-2,79.9],[2.3e-2,82.4],[4.3e-2,84.6],[7.9e-2,85.9],[0.117,86.5],[0.19,85.9],[0.32,84.1],[0.46,80.5],[0.66,75.7],[0.96,68.5],[1.4,60.1],[1.8,51.7],[2.29,43.4],[2.39,41.6]];
const D1_GR: Pt[] = [[6.6e-3,75.4],[9.8e-3,78.1],[1.58e-2,80.7],[2.3e-2,82.3],[4.3e-2,84.6],[7.9e-2,85.9],[0.117,86.5],[0.19,85.9],[0.32,84.1],[0.46,80.5],[0.66,75.7],[0.96,68.5],[1.4,60.1],[1.8,51.7],[2.29,43.4],[2.39,41.3]];
const D1_DG: Pt[] = [[4.4e-3,24.2],[5.2e-3,18.2],[6.6e-3,11.6],[8.5e-3,8.6],[1.1e-2,6.2],[1.2e-2,7.0],[1.32e-2,3.8],[1.58e-2,2.0],[2.04e-2,3.2],[2.95e-2,2.4],[4e-2,2.6],[5.5e-2,2.0],[7.9e-2,1.4],[0.148,0.8],[0.245,1.4],[0.355,3.2],[0.59,6.2],[0.96,8.6],[1.58,10.1],[2.04,9.6],[2.39,8.6]];
const D1_LG: Pt[] = [[7.1e-3,28.4],[8.5e-3,20.6],[1.1e-2,11.0],[1.41e-2,5.0],[1.82e-2,3.2],[2.3e-2,2.6],[4.3e-2,2.0],[7.9e-2,1.4],[0.148,0.8],[0.28,1.0],[0.51,2.0],[0.96,3.8],[1.58,6.2],[2.39,9.2]];

const D2_RD: Pt[] = [[1.05e-2,76.6],[1.82e-2,78.1],[3.4e-2,79.0],[7.9e-2,80.2],[0.17,81.4],[0.32,81.8],[0.59,80.8],[0.96,78.7],[1.58,74.9],[2.63,68.9],[4.27,59.3],[6.2,50.9]];
const D2_BL: Pt[] = [[1.05e-2,73.7],[1.82e-2,75.4],[3.4e-2,77.8],[7.9e-2,79.9],[0.17,81.2],[0.32,81.8],[0.59,80.8],[0.96,78.7],[1.58,74.9],[2.63,68.9],[4.27,59.3],[6.2,50.9]];
const D2_GR: Pt[] = [[1.82e-2,73.1],[2.6e-2,75.4],[4.3e-2,77.8],[7.9e-2,79.4],[0.148,80.8],[0.32,81.7],[0.59,80.8],[0.96,78.7],[1.58,74.9],[2.63,68.9],[4.27,59.3],[6.2,50.6]];
const D2_DG: Pt[] = [[1.15e-2,29.3],[1.58e-2,19.8],[2.04e-2,14.4],[2.6e-2,10.8],[2.95e-2,9.0],[3.4e-2,10.2],[3.8e-2,6.6],[4.5e-2,3.6],[5.5e-2,6.6],[7.1e-2,5.4],[9.1e-2,4.2],[0.117,4.0],[0.148,2.4],[0.28,1.8],[0.51,0.8],[0.96,1.2],[1.78,1.8],[3.3,3.6],[4.9,5.4],[6.2,9.0]];
const D2_LG: Pt[] = [[1.91e-2,38.9],[2.3e-2,28.1],[2.95e-2,17.4],[4.3e-2,10.8],[6.3e-2,9.6],[7.9e-2,9.0],[0.1,6.6],[0.117,6.6],[0.141,5.4],[0.17,3.2],[0.28,2.2],[0.51,1.2],[0.76,1.2],[1.23,2.4],[2.04,6.6],[3.3,12.0],[5.9,16.8]];

const D3_RD: Pt[] = [[1.58e-2,76.9],[3.4e-2,77.8],[7.9e-2,78.4],[0.19,79.3],[0.355,79.6],[0.59,79.3],[0.96,77.8],[1.58,75.4],[2.63,70.7],[4.27,64.1],[6.2,57.5],[9.0,49.1]];
const D3_BL: Pt[] = [[1.58e-2,73.1],[2.3e-2,74.9],[4.3e-2,76.6],[7.9e-2,77.8],[0.19,79.0],[0.355,79.5],[0.59,79.3],[0.96,77.8],[1.58,75.4],[2.63,70.7],[4.27,64.1],[6.2,57.5],[9.0,49.1]];
const D3_GR: Pt[] = [[2.8e-2,71.9],[4.3e-2,74.9],[7.9e-2,76.4],[0.148,77.6],[0.28,78.8],[0.51,79.0],[0.96,77.6],[1.58,75.4],[2.63,70.7],[4.27,64.1],[6.2,57.5],[9.0,48.8]];
const D3_DG: Pt[] = [[1.7e-2,31.7],[2.3e-2,22.8],[2.95e-2,16.8],[3.8e-2,12.0],[4.6e-2,12.6],[5.5e-2,8.4],[6.6e-2,5.4],[7.9e-2,10.2],[0.102,7.2],[0.132,6.6],[0.17,4.8],[0.22,5.4],[0.28,3.6],[0.51,2.4],[0.96,1.4],[1.78,2.2],[3.3,3.6],[6.2,5.4],[9.0,8.4]];
const D3_LG: Pt[] = [[2.95e-2,44.3],[3.5e-2,35.9],[4.3e-2,28.7],[5.5e-2,24.0],[6.6e-2,19.2],[7.9e-2,18.6],[0.102,17.4],[0.123,18.6],[0.148,16.8],[0.18,12.6],[0.22,13.8],[0.28,9.6],[0.355,8.4],[0.51,6.0],[0.96,4.2],[1.78,4.2],[3.3,4.6],[6.2,5.4],[8.5,6.0]];

const D4_RD: Pt[] = [[5.2e-2,78.2],[0.102,77.6],[0.22,77.8],[0.51,77.6],[0.96,76.6],[1.78,74.9],[3.3,71.9],[6.2,67.1],[10.2,61.7],[16.6,53.9],[24,45.5],[35.5,31.1]];
const D4_BL: Pt[] = [[5.2e-2,73.7],[0.102,75.4],[0.22,76.0],[0.51,76.4],[0.96,76.2],[1.78,74.6],[3.3,71.6],[6.2,66.9],[10.2,61.5],[16.6,53.6],[24,45.2],[35.5,30.5]];
const D4_GR: Pt[] = [[0.102,69.5],[0.19,72.5],[0.355,73.7],[0.66,74.5],[1.23,74.3],[2.04,73.1],[3.3,71.3],[6.2,66.5],[10.2,61.2],[16.6,53.3],[24,45],[35.5,29.3]];
const D4_DG: Pt[] = [[5.6e-2,37.1],[7.1e-2,29.9],[9.1e-2,24.0],[0.11,22.2],[0.132,18.6],[0.17,22.8],[0.22,18.6],[0.275,19.2],[0.355,10.2],[0.43,13.2],[0.51,12.0],[0.62,6.0],[0.85,4.8],[1.23,3.0],[1.78,3.6],[3.3,5.4],[6.2,7.2],[11.5,9.0],[21.4,13.2],[35.5,19.8]];
const D4_LG: Pt[] = [[0.11,62.3],[0.132,55.1],[0.17,47.9],[0.245,43.1],[0.295,44.3],[0.355,40.7],[0.51,34.7],[0.71,26.3],[0.91,18.0],[1.02,19.2],[1.4,14.4],[2.04,12.6],[3.3,14.4],[6.2,16.2],[11.5,16.8],[21.4,16.2],[35.5,16.2]];

const D5_RD: Pt[] = [[0.148,75.7],[0.28,75.7],[0.51,75.7],[0.96,75.1],[1.78,73.3],[3.3,70.9],[6.2,68.5],[11.5,64.3],[19,59.5],[27.5,52.3],[40,45.1],[58.9,35.6],[79,23.6],[102,14.0]];
const D5_BL: Pt[] = [[0.148,68.5],[0.28,69.7],[0.51,70.9],[0.96,71.7],[1.78,71.3],[3.3,69.1],[6.2,66.7],[11.5,63.1],[19,57.1],[27.5,49.3],[40,41.6],[58.9,30.8],[79,17.6],[105,6.8]];
const D5_GR: Pt[] = [[0.245,56.5],[0.4,59.3],[0.76,61.9],[1.23,63.7],[2.04,65.3],[3.3,64.9],[6.2,63.7],[11.5,60.1],[19,53.5],[27.5,46.3],[40,38.0],[58.9,27.2],[79,15.2],[95,6.8]];
const D5_DG: Pt[] = [[0.158,56.9],[0.19,51.1],[0.23,47.5],[0.295,52.6],[0.355,51.1],[0.49,46.3],[0.66,40.4],[0.85,35.6],[1.02,34.4],[1.23,28.4],[1.58,21.2],[1.75,19.0],[1.9,20.5],[2.1,18.5],[2.29,19.5],[2.5,17.5],[2.75,16.5],[3.0,19.0],[3.3,18.0],[3.7,19.8],[4.27,19.0],[6.2,21.2],[11.5,24.8],[21.4,30.8],[40,39.2],[74,47.5],[102,55.9]];
const D5_LG: Pt[] = [[0.27,88.0],[0.46,85.3],[0.66,81.7],[0.96,76.3],[1.23,70.3],[1.58,64.3],[2.04,57.1],[2.63,49.9],[3.3,45.1],[4.27,40.4],[5.5,38.6],[7.1,39.2],[10.2,39.0],[13.2,41.6],[19,46.3],[27.5,52.3],[40,58.3],[66,66.7],[89,75.7]];

// ---------------- assembly ----------------
const EXP_PANELS = [
  { lg: E1_LG, lgd: E1_LGD, dg: E1_DG, dgd: E1_DGD, bk: E1_BK, bkd: E1_BKD, bl: E1_BL, bld: E1_BLD, rd: E1_RD, rdd: E1_RDD },
  { lg: E2_LG, lgd: E2_LGD, dg: E2_DG, dgd: E2_DGD, bk: E2_BK, bkd: E2_BKD, bl: E2_BL, bld: E2_BLD, rd: E2_RD, rdd: E2_RDD },
  { lg: E3_LG, lgd: E3_LGD, dg: E3_DG, dgd: E3_DGD, bk: E3_BK, bkd: E3_BKD, bl: E3_BL, bld: E3_BLD, rd: E3_RD, rdd: E3_RDD },
  { lg: E4_LG, lgd: E4_LGD, dg: E4_DG, dgd: E4_DGD, bk: E4_BK, bkd: E4_BKD, bl: E4_BL, bld: E4_BLD, rd: E4_RD, rdd: E4_RDD },
  { lg: E5_LG, lgd: E5_LGD, dg: E5_DG, dgd: E5_DGD, bk: E5_BK, bkd: E5_BKD, bl: E5_BL, bld: E5_BLD, rd: E5_RD, rdd: E5_RDD },
];
const DNS_PANELS = [
  { lg: D1_LG, dg: D1_DG, gr: D1_GR, bl: D1_BL, rd: D1_RD },
  { lg: D2_LG, dg: D2_DG, gr: D2_GR, bl: D2_BL, rd: D2_RD },
  { lg: D3_LG, dg: D3_DG, gr: D3_GR, bl: D3_BL, rd: D3_RD },
  { lg: D4_LG, dg: D4_DG, gr: D4_GR, bl: D4_BL, rd: D4_RD },
  { lg: D5_LG, dg: D5_DG, gr: D5_GR, bl: D5_BL, rd: D5_RD },
];

// ---------------- layout & styles ----------------
const SERIF = "'Liberation Serif', 'Times New Roman', serif";
const SANS = "'Liberation Sans', Arial, Helvetica, sans-serif";
const LX0 = 85.7, LX1 = 437.7, RX0 = 455.7, RX1 = 808.3;
const TOP0 = 52.3, STEP = 304.5, PH = 278.4;
const LIGHT = "#b3b3b3", DARK = "#333333";
const THICK = 2.7;
const TICK_FS = 21.5, SUP_FS = 15, SUP_DY = 12.5;

const EXP_STYLE: { key: string; color: string; w: number; dash?: string; smooth: boolean }[] = [
  { key: "lg", color: LIGHT, w: 1, smooth: false },
  { key: "lgd", color: LIGHT, w: 1, dash: "5 3", smooth: false },
  { key: "dg", color: DARK, w: 1, smooth: false },
  { key: "dgd", color: DARK, w: 1, dash: "5 3", smooth: false },
  { key: "bk", color: "#000000", w: THICK, smooth: true },
  { key: "bkd", color: "#000000", w: THICK, dash: "7 4", smooth: true },
  { key: "bl", color: "#0000ff", w: THICK, smooth: true },
  { key: "bld", color: "#0000ff", w: THICK, dash: "7 4", smooth: true },
  { key: "rd", color: "#ff0000", w: THICK, smooth: true },
  { key: "rdd", color: "#ff0000", w: THICK, dash: "7 4", smooth: true },
];
const DNS_STYLE: { key: string; color: string; w: number; dash?: string; smooth: boolean }[] = [
  { key: "lg", color: LIGHT, w: 1, smooth: false },
  { key: "dg", color: DARK, w: 1, smooth: false },
  { key: "gr", color: "#00ff00", w: 2.8, dash: "8 3 1.5 3", smooth: true },
  { key: "bl", color: "#0000ff", w: 2.8, dash: "8 3 1.5 3", smooth: true },
  { key: "rd", color: "#ff0000", w: 2.8, dash: "8 3 1.5 3", smooth: true },
];

const isMajor = (t: number) => Math.abs(Math.log10(t) - Math.round(Math.log10(t))) < 1e-6;
const SP = "\u2002";

function PowLabel({ x, y, exp, anchor }: { x: number; y: number; exp: number; anchor: "middle" | "base" }) {
  const sup = exp < 0 ? `\u2212${-exp}` : `${exp}`;
  if (anchor === "middle") {
    return (
      <text x={x} y={y} textAnchor="middle" fontFamily={SANS} fontSize={TICK_FS} fill="#000">
        <tspan>10</tspan>
        <tspan fontSize={SUP_FS} dy={-SUP_DY}>{sup}</tspan>
      </text>
    );
  }
  return (
    <g>
      <text x={x} y={y} textAnchor="end" fontFamily={SANS} fontSize={TICK_FS} fill="#000">10</text>
      <text x={x + 1} y={y - SUP_DY} textAnchor="start" fontFamily={SANS} fontSize={SUP_FS} fill="#000">{sup}</text>
    </g>
  );
}

function LevelText({ x, y, level, err }: { x: number; y: number; level: string; err: string }) {
  return (
    <text x={x} y={y} textAnchor="end" fontFamily={SERIF} fontSize={19} fill="#000">
      <tspan fontStyle="italic">y</tspan><tspan>/</tspan><tspan fontStyle="italic">δ</tspan>
      <tspan fontStyle="italic" fontSize={13} dy={3.5}>v</tspan>
      <tspan dy={-3.5}>{`${SP}=${SP}${level}${SP}±${SP}${err}`}</tspan>
    </text>
  );
}

export default function App() {
  const xL = d3.scaleLog().domain(X_DOMAIN).range([LX0, LX1]);
  const xR = d3.scaleLog().domain(X_DOMAIN).range([RX0, RX1]);
  const xTicks = xL.ticks();
  const rows = [0, 1, 2, 3, 4];

  return (
    <svg width={880} height={1612} viewBox="0 0 880 1612"
      style={{ position: "absolute", left: 0, top: 0, display: "block", background: "#fff" }}>
      <rect x={0} y={0} width={880} height={1612} fill="#fff" />
      <defs>
        {rows.map((i) => {
          const top = TOP0 + i * STEP;
          return (
            <React.Fragment key={i}>
              <clipPath id={`clipL${i}`}><rect x={LX0} y={top} width={LX1 - LX0} height={PH} /></clipPath>
              <clipPath id={`clipR${i}`}><rect x={RX0} y={top} width={RX1 - RX0} height={PH} /></clipPath>
              <clipPath id={`clipLab${i}`}><rect x={0} y={top - 40} width={LX0} height={PH + 42.5} /></clipPath>
            </React.Fragment>
          );
        })}
      </defs>

      <text x={69} y={21.5} fontFamily={SERIF} fontStyle="italic" fontSize={25.5} textLength={746} lengthAdjust="spacing" fill="#000">{TITLE}</text>

      {rows.map((i) => {
        const top = TOP0 + i * STEP;
        const bot = top + PH;
        const yLog = d3.scaleLog().domain(Y_DOMAIN).range([bot, top]);
        const yLin = d3.scaleLinear().domain([0, 100]).range([bot, top]);
        const yTicks = yLog.ticks();
        const lineL = (smooth: boolean) => d3.line<Pt>().x((d) => xL(d[0])).y((d) => yLog(d[1])).curve(smooth ? d3.curveMonotoneX : d3.curveLinear);
        const lineR = (smooth: boolean) => d3.line<Pt>().x((d) => xR(d[0])).y((d) => yLin(d[1])).curve(smooth ? d3.curveMonotoneX : d3.curveLinear);
        const ep = EXP_PANELS[i] as Record<string, Pt[]>;
        const dp = DNS_PANELS[i] as Record<string, Pt[]>;
        const cyc = (top + bot) / 2;
        return (
          <g key={i}>
            {/* ---- left (Exp.) ---- */}
            <g clipPath={`url(#clipL${i})`}>
              {EXP_STYLE.map((s) => (
                <path key={s.key} d={lineL(s.smooth)(ep[s.key]) || ""} fill="none" stroke={s.color}
                  strokeWidth={s.w} strokeDasharray={s.dash} strokeLinejoin="round" />
              ))}
            </g>
            <rect x={LX0} y={top} width={LX1 - LX0} height={PH} fill="none" stroke="#000" strokeWidth={1} />
            {xTicks.map((t, k) => {
              const len = isMajor(t) ? 5 : 2.8;
              const x = xL(t);
              return (
                <g key={k}>
                  <line x1={x} x2={x} y1={bot} y2={bot - len} stroke="#000" strokeWidth={0.8} />
                  <line x1={x} x2={x} y1={top} y2={top + len} stroke="#000" strokeWidth={0.8} />
                </g>
              );
            })}
            {Y_LABEL_EXPS.map((e) => {
              const y = yLog(Math.pow(10, e));
              return (
                <g key={e}>
                  <line x1={LX0} x2={LX0 + 5} y1={y} y2={y} stroke="#000" strokeWidth={0.8} />
                  <line x1={LX1} x2={LX1 - 5} y1={y} y2={y} stroke="#000" strokeWidth={0.8} />
                  <g clipPath={i < 4 && e === -4 ? `url(#clipLab${i})` : undefined}>
                    <PowLabel x={64} y={y + 7.7} exp={e} anchor="base" />
                  </g>
                </g>
              );
            })}
            <text x={104.5} y={top + 22.7} fontFamily={SERIF} fontSize={20} fill="#000">Exp.</text>
            <LevelText x={LX1 - 15} y={top + 22.7} level={EXP_LEVELS[i]} err={EXP_ERR[i]} />
            <g transform={`translate(32, ${cyc}) rotate(-90)`}>
              <text x={0} y={0} textAnchor="middle" fontFamily={SERIF} fontStyle="italic" fontSize={27} fill="#000">
                <tspan>k</tspan><tspan fontSize={18} dy={5}>x</tspan>
                <tspan dy={-5} dx={3}>E</tspan><tspan fontSize={18} dy={5}>uu</tspan>
                <tspan dy={-5} dx={1} fontStyle="normal">/</tspan><tspan dx={1}>u</tspan>
                <tspan fontSize={18} dy={5}>τ</tspan>
                <tspan fontSize={18} fontStyle="normal" dx={-8} dy={-17}>2</tspan>
              </text>
            </g>

            {/* ---- right (DNS) ---- */}
            <g clipPath={`url(#clipR${i})`}>
              {DNS_STYLE.map((s) => (
                <path key={s.key} d={lineR(s.smooth)(dp[s.key]) || ""} fill="none" stroke={s.color}
                  strokeWidth={s.w} strokeDasharray={s.dash} strokeLinejoin="round" />
              ))}
            </g>
            <rect x={RX0} y={top} width={RX1 - RX0} height={PH} fill="none" stroke="#000" strokeWidth={1} />
            {xTicks.map((t, k) => {
              const len = isMajor(t) ? 5 : 2.8;
              const x = xR(t);
              return (
                <g key={k}>
                  <line x1={x} x2={x} y1={bot} y2={bot - len} stroke="#000" strokeWidth={0.8} />
                  <line x1={x} x2={x} y1={top} y2={top + len} stroke="#000" strokeWidth={0.8} />
                </g>
              );
            })}
            {yTicks.map((t, k) => {
              const len = isMajor(t) ? 5 : 2.8;
              const y = yLog(t);
              return <line key={k} x1={RX0} x2={RX0 + len} y1={y} y2={y} stroke="#000" strokeWidth={0.8} />;
            })}
            {RIGHT_TICKS.map((v) => {
              const y = yLin(v);
              return (
                <g key={v}>
                  <line x1={RX1} x2={RX1 - 5} y1={y} y2={y} stroke="#000" strokeWidth={0.8} />
                  <text x={RX1 + 3.5} y={y + 7.7} fontFamily={SANS} fontSize={TICK_FS} fill="#000">{v}</text>
                </g>
              );
            })}
            <text x={475} y={top + 22.7} fontFamily={SERIF} fontSize={20} fill="#000">DNS</text>
            <LevelText x={RX1 - 16} y={top + 22.7} level={DNS_LEVELS[i]} err={DNS_ERR[i]} />
            <g transform={`translate(870, ${cyc}) rotate(-90)`}>
              <text x={0} y={0} textAnchor="middle" fontFamily={SERIF} fontSize={24} fill="#000">Relative discrepancy[%]</text>
            </g>

            {/* ---- x tick labels ---- */}
            {i === 0 && X_LABEL_EXPS.map((e) => (
              <g key={`t${e}`}>
                <PowLabel x={xL(Math.pow(10, e)) + 1} y={top - 3.3} exp={e} anchor="middle" />
                <PowLabel x={xR(Math.pow(10, e)) + 1} y={top - 3.3} exp={e} anchor="middle" />
              </g>
            ))}
            {i === 4 && X_LABEL_EXPS.map((e) => (
              <g key={`b${e}`}>
                <PowLabel x={xL(Math.pow(10, e)) + 1} y={bot + 31} exp={e} anchor="middle" />
                <PowLabel x={xR(Math.pow(10, e)) + 1} y={bot + 31} exp={e} anchor="middle" />
              </g>
            ))}
            {i === 4 && (
              <>
                <text x={(LX0 + LX1) / 2} y={bot + 48.5} textAnchor="middle" fontFamily={SERIF} fontStyle="italic" fontSize={24} fill="#000">
                  <tspan>k</tspan><tspan fontSize={16} dy={4}>x</tspan><tspan dy={-4}>y</tspan>
                </text>
                <text x={(RX0 + RX1) / 2} y={bot + 48.5} textAnchor="middle" fontFamily={SERIF} fontStyle="italic" fontSize={24} fill="#000">
                  <tspan>k</tspan><tspan fontSize={16} dy={4}>x</tspan><tspan dy={-4}>y</tspan>
                </text>
              </>
            )}
          </g>
        );
      })}

      <text x={-24} y={1622} fontFamily={SERIF} fontSize={26} wordSpacing={12.5} fill="#000">{CAPTION}</text>
    </svg>
  );
}
